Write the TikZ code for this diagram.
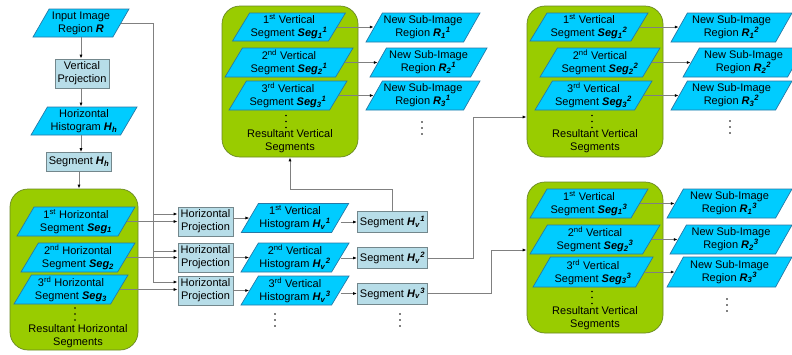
\documentclass[tikz,border=0pt]{standalone}
\usepackage{amsmath,amssymb,graphicx,tikz,xcolor}
\usepackage{fontspec}
\setmainfont{Liberation Sans}
\usetikzlibrary{shapes.geometric,arrows.meta}

\definecolor{parafill}{RGB}{0,204,255}
\definecolor{paraline}{RGB}{40,120,165}
\definecolor{boxfill}{RGB}{183,221,232}
\definecolor{boxline}{RGB}{115,135,140}
\definecolor{grpfill}{RGB}{153,204,0}
\definecolor{grpline}{RGB}{105,135,35}
\definecolor{linegray}{RGB}{128,128,128}

\newcommand{\bitxt}[1]{\textbf{\textit{#1}}}
\newcommand{\sbs}[2]{\bitxt{#1}\textsubscript{\bitxt{#2}}}
\newcommand{\sbsp}[3]{\bitxt{#1}\textsubscript{\bitxt{#2}}\textsuperscript{\bitxt{#3}}}

\tikzset{
    para/.style={trapezium, trapezium left angle=57, trapezium right angle=123, trapezium stretches body,
        draw=paraline, fill=parafill, line width=0.7pt, minimum height=28pt, align=center, inner sep=1pt},
    proc/.style={rectangle, draw=boxline, fill=boxfill, line width=0.7pt, align=center, inner sep=2.5pt},
    group/.style={rectangle, draw=grpline, fill=grpfill, line width=0.7pt, rounded corners=18pt,
        minimum width=136pt, minimum height=151pt},
    dotcol/.style={rectangle, inner sep=0pt, minimum width=3pt, minimum height=15pt,
        path picture={\foreach \k in {-6,0,6}{\fill ([yshift=\k pt]path picture bounding box.center) circle (0.85pt);}}},
    conn/.style={draw=linegray, line width=0.8pt, -{Latex[length=4pt,width=3pt,color=black]}},
    wire/.style={draw=linegray, line width=0.8pt}
}

\begin{document}
\begin{tikzpicture}[x=1pt,y=-1pt,font=\fontsize{11}{13}\selectfont]
        \clip (0,0) rectangle (792,354);

        \node[para, minimum width=96pt] (inR) at (81,23) {Input Image\\Region \bitxt{R}};
        \node[proc, minimum width=54pt, minimum height=29pt] (vproj) at (82,73.5) {Vertical\\Projection};
        \node[para, minimum width=106pt] (hhist) at (84,121) {Horizontal\\Histogram \sbs{H}{h}};
        \node[proc, minimum height=19pt] (segh) at (79,162) {Segment \sbs{H}{h}};

        \node[group, minimum width=128pt, minimum height=161pt] (hgrp) at (74,269.5) {};
        \node[para, minimum width=118pt, minimum height=29pt] (hs1) at (76,221.5) {1\textsuperscript{st} Horizontal\\Segment \sbs{Seg}{1}};
        \node[para, minimum width=114pt, minimum height=29pt] (hs2) at (78,257.5) {2\textsuperscript{nd} Horizontal\\Segment \sbs{Seg}{2}};
        \node[para, minimum width=114pt, minimum height=29pt] (hs3) at (71,289.5) {3\textsuperscript{rd} Horizontal\\Segment \sbs{Seg}{3}};
        \node[dotcol] (hdots) at (75,314) {};
        \node[align=center] (hlab) at (78,336) {Resultant Horizontal\\Segments};

        \node[proc, minimum width=55pt, minimum height=29pt] (hp1) at (205.5,221.5) {Horizontal\\Projection};
        \node[proc, minimum width=55pt, minimum height=29pt] (hp2) at (205.5,257.5) {Horizontal\\Projection};
        \node[proc, minimum width=55pt, minimum height=29pt] (hp3) at (205.5,290.5) {Horizontal\\Projection};

        \node[para, minimum width=96pt, minimum height=29pt] (vh1) at (295,218) {1\textsuperscript{st} Vertical\\Histogram \sbsp{H}{v}{1}};
        \node[para, minimum width=96pt, minimum height=29pt] (vh2) at (295,257.5) {2\textsuperscript{nd} Vertical\\Histogram \sbsp{H}{v}{2}};
        \node[para, minimum width=96pt, minimum height=29pt] (vh3) at (295,290.5) {3\textsuperscript{rd} Vertical\\Histogram \sbsp{H}{v}{3}};
        \node[dotcol] (vhdots) at (275,320) {};

        \node[proc, minimum width=69pt, minimum height=21pt] (segv1) at (392.5,222) {Segment \sbsp{H}{v}{1}};
        \node[proc, minimum width=69pt, minimum height=21pt] (segv2) at (392.5,258) {Segment \sbsp{H}{v}{2}};
        \node[proc, minimum width=69pt, minimum height=21pt] (segv3) at (392.5,293.5) {Segment \sbsp{H}{v}{3}};
        \node[dotcol] (svdots) at (400,320) {};

        % first vertical group
        \node[group] (vb1) at (290,81.5) {};
        \node[para, minimum width=108pt] (vs11) at (289,27) {1\textsuperscript{st} Vertical\\Segment \sbsp{Seg}{1}{1}};
        \node[para, minimum width=128pt, minimum height=29pt] (vs12) at (289,62.5) {2\textsuperscript{nd} Vertical\\Segment \sbsp{Seg}{2}{1}};
        \node[para, minimum width=118pt, minimum height=29pt] (vs13) at (288,95.5) {3\textsuperscript{rd} Vertical\\Segment \sbsp{Seg}{3}{1}};
        \node[dotcol] (vdots1) at (286,121.5) {};
        \node[align=center] (vlab1) at (290,141.5) {Resultant Vertical\\Segments};
        \node[para, minimum width=114pt, minimum height=29pt] (R11) at (423,27.5) {New Sub-Image\\Region \sbsp{R}{1}{1}};
        \node[para, minimum width=117pt, minimum height=29pt] (R12) at (428.5,62.5) {New Sub-Image\\Region \sbsp{R}{2}{1}};
        \node[para, minimum width=114pt, minimum height=29pt] (R13) at (423,95.5) {New Sub-Image\\Region \sbsp{R}{3}{1}};
        \node[dotcol] (rdots1) at (422,128) {};

        % second vertical group
        \node[group] (vb2) at (595,81.5) {};
        \node[para, minimum width=118pt] (vs21) at (589,27) {1\textsuperscript{st} Vertical\\Segment \sbsp{Seg}{1}{2}};
        \node[para, minimum width=120pt, minimum height=29pt] (vs22) at (600,62.5) {2\textsuperscript{nd} Vertical\\Segment \sbsp{Seg}{2}{2}};
        \node[para, minimum width=117pt, minimum height=29pt] (vs23) at (593.5,95.5) {3\textsuperscript{rd} Vertical\\Segment \sbsp{Seg}{3}{2}};
        \node[dotcol] (vdots2) at (592,121.5) {};
        \node[align=center] (vlab2) at (595,141.5) {Resultant Vertical\\Segments};
        \node[para, minimum width=121pt, minimum height=29pt] (R21) at (731.5,27.5) {New Sub-Image\\Region \sbsp{R}{1}{2}};
        \node[para, minimum width=121pt, minimum height=29pt] (R22) at (743.5,62.5) {New Sub-Image\\Region \sbsp{R}{2}{2}};
        \node[para, minimum width=121pt, minimum height=29pt] (R23) at (731.5,95.5) {New Sub-Image\\Region \sbsp{R}{3}{2}};
        \node[dotcol] (rdots2) at (730,127) {};

        % third vertical group
        \node[group] (vb3) at (595,257.5) {};
        \node[para, minimum width=118pt, minimum height=29pt] (vs31) at (589,203.5) {1\textsuperscript{st} Vertical\\Segment \sbsp{Seg}{1}{3}};
        \node[para, minimum width=130pt, minimum height=29pt] (vs32) at (595,239.5) {2\textsuperscript{nd} Vertical\\Segment \sbsp{Seg}{2}{3}};
        \node[para, minimum width=120pt, minimum height=30pt] (vs33) at (593,272) {3\textsuperscript{rd} Vertical\\Segment \sbsp{Seg}{3}{3}};
        \node[dotcol] (vdots3) at (592,297.5) {};
        \node[align=center] (vlab3) at (595,318.5) {Resultant Vertical\\Segments};
        \node[para, minimum width=125pt, minimum height=29pt] (R31) at (729.5,203.5) {New Sub-Image\\Region \sbsp{R}{1}{3}};
        \node[para, minimum width=122pt, minimum height=29pt] (R32) at (731,239.5) {New Sub-Image\\Region \sbsp{R}{2}{3}};
        \node[para, minimum width=125pt, minimum height=30pt] (R33) at (729.5,272) {New Sub-Image\\Region \sbsp{R}{3}{3}};
        \node[dotcol] (rdots3) at (727,305) {};

        \coordinate (b1) at (153,214);
        \coordinate (b2) at (153,251);
        \coordinate (b3) at (153,282);
        \coordinate (up1) at (0,189);
        \coordinate (jn2) at (473,117);
        \coordinate (jn3) at (491,250);

        \draw[conn] (inR.south) -- (inR.south |- vproj.north);
        \draw[conn] (inR.south |- vproj.south) -- (inR.south |- hhist.north);
        \draw[conn] (inR.south |- hhist.south) -- (inR.south |- segh.north);
        \draw[conn] (segh.south) -- (segh.south |- hgrp.north);

        \draw[wire] (inR.east) -| (b3);
        \draw[conn] (b1) -- (b1 -| hp1.west);
        \draw[conn] (b2) -- (b2 -| hp2.west);
        \draw[conn] (b3) -- (b3 -| hp3.west);
        \draw[conn] (hs1.east) -- (hs1.east -| hp1.west);
        \draw[conn] (hs2.east) -- (hs2.east -| hp2.west);
        \draw[conn] (hs3.east) -- (hs3.east -| hp3.west);

        \draw[conn] (hp1.east |- vh1.west) -- (vh1.west);
        \draw[conn] (hp2.east |- vh2.west) -- (vh2.west);
        \draw[conn] (hp3.east |- vh3.west) -- (vh3.west);
        \draw[conn] (segv1.west -| vh1.east) -- (segv1.west);
        \draw[conn] (segv2.west -| vh2.east) -- (segv2.west);
        \draw[conn] (segv3.west -| vh3.east) -- (segv3.west);

        \draw[conn] (segv1.north) -- (segv1.north |- up1) -| (vb1.south);
        \draw[conn] (segv2.east) -| (jn2) -- (jn2 -| vb2.west);
        \draw[conn] (segv3.east) -| (jn3) -- (jn3 -| vb3.west);

        \draw[conn] (vs11.east) -- (vs11.east -| R11.west);
        \draw[conn] (vs12.east) -- (vs12.east -| R12.west);
        \draw[conn] (vs13.east) -- (vs13.east -| R13.west);
        \draw[conn] (vs21.east) -- (vs21.east -| R21.west);
        \draw[conn] (vs22.east) -- (vs22.east -| R22.west);
        \draw[conn] (vs23.east) -- (vs23.east -| R23.west);
        \draw[conn] (vs31.east) -- (vs31.east -| R31.west);
        \draw[conn] (vs32.east) -- (vs32.east -| R32.west);
        \draw[conn] (vs33.east) -- (vs33.east -| R33.west);
    \end{tikzpicture}
\end{document}
